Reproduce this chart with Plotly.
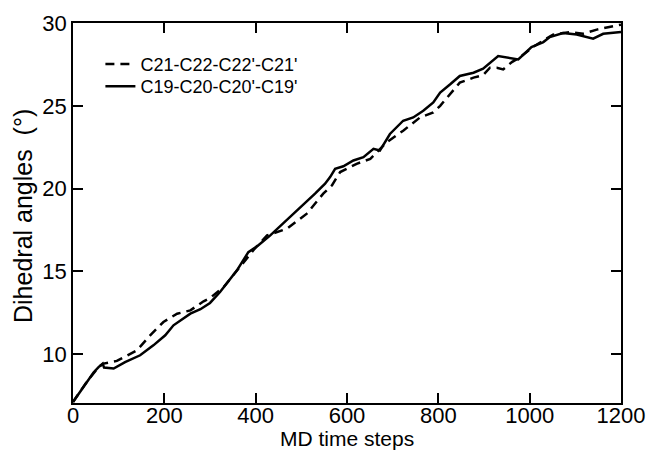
import plotly.graph_objects as go

# C19-C20-C20'-C19' (solid)
x_solid = [0, 15, 30, 45, 56, 65, 68, 89, 114, 147, 176, 202, 220, 257, 279, 300,
           322, 359, 384, 406, 432, 468, 512, 530, 552, 563, 574, 592, 614, 636,
           658, 672, 694, 723, 745, 767, 789, 804, 826, 847, 877, 898, 931, 961,
           975, 1004, 1030, 1044, 1073, 1103, 1139, 1161, 1200]
y_solid = [7.12, 7.7, 8.33, 8.9, 9.23, 9.44, 9.2, 9.14, 9.53, 9.94, 10.54, 11.15,
           11.75, 12.45, 12.72, 13.1, 13.76, 15.07, 16.17, 16.58, 17.18, 18.09,
           19.19, 19.7, 20.3, 20.7, 21.2, 21.35, 21.7, 21.9, 22.4, 22.3, 23.3,
           24.1, 24.3, 24.7, 25.2, 25.8, 26.3, 26.8, 27.0, 27.24, 28.0, 27.88,
           27.8, 28.55, 28.85, 29.15, 29.4, 29.3, 29.05, 29.35, 29.45]

# C21-C22-C22'-C21' (dashed)
x_dash = [0, 30, 56, 67, 96, 140, 169, 198, 228, 257, 286, 300, 330, 366, 395, 425,
          468, 512, 548, 567, 585, 621, 651, 687, 723, 760, 789, 804, 826, 847,
          877, 898, 913, 928, 942, 961, 979, 1007, 1051, 1088, 1117, 1147, 1191, 1200]
y_dash = [7.12, 8.33, 9.23, 9.44, 9.6, 10.24, 11.15, 11.95, 12.45, 12.65, 13.2,
          13.4, 14.06, 15.27, 16.28, 17.18, 17.58, 18.49, 19.7, 20.2, 21.0, 21.5,
          21.8, 22.8, 23.5, 24.3, 24.6, 25.0, 25.7, 26.4, 26.7, 26.85, 27.3, 27.3,
          27.2, 27.64, 27.94, 28.55, 29.3, 29.45, 29.35, 29.6, 29.85, 29.9]

x_ticks = [0, 200, 400, 600, 800, 1000, 1200]
y_ticks = [10, 15, 20, 25, 30]

FONT = "Liberation Sans, Arial, sans-serif"
TICK_SIZE = 22
TITLE_SIZE = 21
LEG_SIZE = 18

fig = go.Figure()
fig.add_trace(go.Scatter(x=x_dash, y=y_dash, mode="lines",
                         name="C21-C22-C22'-C21'", legend="legend",
                         line=dict(color="black", width=2.5, dash="9px,6px")))
fig.add_trace(go.Scatter(x=x_solid, y=y_solid, mode="lines",
                         name="C19-C20-C20'-C19'", legend="legend2",
                         line=dict(color="black", width=2.5)))

axis_common = dict(showline=True, linecolor="black", linewidth=1.5, mirror="ticks",
                   ticks="inside", ticklen=10, tickwidth=1.5, tickcolor="black",
                   showgrid=False, zeroline=False, automargin=False,
                   ticklabeloverflow="allow",
                   tickfont=dict(family=FONT, size=TICK_SIZE, color="black"))

fig.update_xaxes(range=[0, 1200], tickvals=x_ticks, ticklabelstandoff=-8, **axis_common)
fig.update_yaxes(range=[7.06, 30], tickvals=y_ticks, **axis_common)

leg_common = dict(xanchor="left", yanchor="middle", bgcolor="rgba(0,0,0,0)",
                  borderwidth=0, font=dict(family=FONT, size=LEG_SIZE, color="black"),
                  itemwidth=30)

fig.update_layout(
    width=646, height=450,
    margin=dict(l=73, r=25, t=23, b=47),
    paper_bgcolor="white", plot_bgcolor="white",
    showlegend=True,
    legend=dict(x=0.05, y=0.891, **leg_common),
    legend2=dict(x=0.05, y=0.833, **leg_common),
    annotations=[
        dict(text="MD time steps", xref="paper", yref="paper", x=0.5, y=0,
             xanchor="center", yanchor="middle", yshift=-35, showarrow=False,
             font=dict(family=FONT, size=TITLE_SIZE, color="black")),
        dict(text="Dihedral angles  (°)", xref="paper", yref="paper", x=0, y=0.5,
             xanchor="center", yanchor="middle", xshift=-50, yshift=-3, textangle=-90,
             showarrow=False, font=dict(family=FONT, size=25, color="black")),
    ],
)

fig.write_html(
    "out.html",
    config={"displayModeBar": False},
    post_script="document.body.style.margin='0';document.body.style.overflow='hidden';",
)
